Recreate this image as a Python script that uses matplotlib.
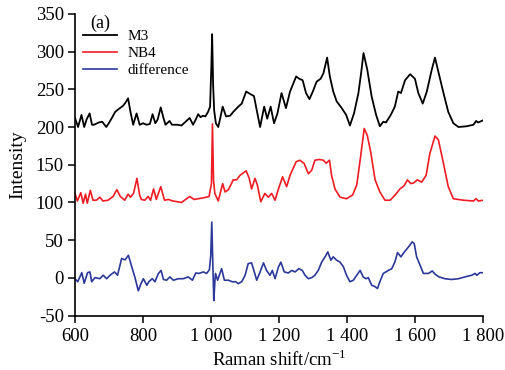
import matplotlib
matplotlib.use("Agg")
import matplotlib.pyplot as plt
from matplotlib.ticker import FixedLocator

plt.rcParams['font.family'] = ['Liberation Serif', 'DejaVu Serif']
plt.rcParams['mathtext.fontset'] = 'custom'
plt.rcParams['mathtext.rm'] = 'Liberation Serif'
plt.rcParams['axes.unicode_minus'] = False

# ---- data ----
m3_x = [600, 609, 619, 627, 634, 643, 650, 656, 670, 680, 692, 702, 712, 718, 726, 735,
        741, 748, 756, 763, 771, 781, 790, 800, 810, 820, 828, 836, 843, 852, 860, 866,
        878, 885, 900, 913, 925, 937, 947, 955, 962, 969, 976, 983, 991, 997, 1001, 1003,
        1006, 1009, 1014, 1021, 1027, 1034, 1044, 1056, 1065, 1080, 1090, 1103, 1114, 1126,
        1136, 1144, 1156, 1165, 1175, 1185, 1195, 1207, 1220, 1232, 1250, 1259, 1269, 1279,
        1289, 1299, 1310, 1322, 1330, 1341, 1349, 1359, 1369, 1384, 1397, 1408, 1420, 1433,
        1441, 1448, 1459, 1472, 1485, 1496, 1506, 1514, 1528, 1540, 1550, 1558, 1570, 1585,
        1599, 1609, 1622, 1634, 1648, 1658, 1668, 1683, 1697, 1712, 1727, 1751, 1771, 1779,
        1785, 1800]
m3_y = [212, 200, 216, 200, 210, 218, 203, 203, 206, 207, 200, 207, 215, 220, 223, 226,
        228, 232, 238, 220, 203, 218, 203, 205, 203, 204, 217, 205, 210, 226, 212, 203,
        208, 203, 203, 202, 207, 212, 203, 210, 217, 213, 215, 214, 220, 227, 285, 323,
        255, 222, 205, 200, 212, 227, 214, 215, 220, 227, 231, 247, 244, 241,
        218, 200, 227, 211, 227, 205, 218, 245, 225, 247, 267, 264, 262, 245,
        237, 247, 260, 264, 271, 292, 267, 247, 234, 225, 216, 202, 218, 245,
        272, 298, 276, 240, 216, 201, 207, 206, 216, 227, 247, 245, 262, 270,
        264, 245, 231, 247, 275, 292, 273, 245, 220, 205, 200, 201, 203, 208,
        206, 209]

nb4_x = [600, 607, 617, 624, 631, 636, 645, 653, 663, 673, 682, 697, 712, 723, 733, 746,
         756, 763, 772, 782, 790, 795, 805, 815, 822, 831, 839, 852, 863, 874, 888, 913,
         937, 950, 962, 976, 994, 1001, 1004, 1007, 1011, 1021, 1034, 1041, 1051, 1065,
         1075, 1085, 1103, 1112, 1119, 1129, 1136, 1146, 1158, 1168, 1178, 1188, 1198, 1210,
         1222, 1232, 1250, 1261, 1273, 1286, 1296, 1305, 1318, 1330, 1338, 1348, 1354, 1364,
         1379, 1398, 1416, 1428, 1438, 1450, 1459, 1469, 1482, 1496, 1511, 1526, 1541, 1555,
         1567, 1577, 1587, 1596, 1606, 1619, 1632, 1643, 1658, 1668, 1681, 1697, 1712, 1741,
         1771, 1779, 1785, 1800]
nb4_y = [112, 102, 113, 99, 111, 99, 116, 103, 103, 107, 102, 103, 108, 117, 108, 103,
         111, 107, 112, 132, 110, 104, 103, 108, 103, 118, 104, 121, 103, 104, 102, 100,
         108, 104, 105, 106, 108, 125, 204, 130, 112, 102, 125, 114, 117, 130,
         130, 136, 142, 132, 118, 132, 123, 101, 112, 107, 112, 103, 118, 134,
         121, 136, 154, 156, 152, 138, 143, 156, 157, 156, 152, 156, 136, 118,
         107, 105, 110, 123, 156, 198, 189, 167, 130, 114, 103, 103, 110, 118,
         122, 130, 125, 126, 130, 127, 136, 165, 188, 183, 156, 121, 105, 103,
         102, 105, 102, 103]

diff_x = [600, 608, 620, 627, 637, 644, 649, 659, 673, 683, 693, 703, 716, 725, 737, 747,
          757, 767, 776, 786, 794, 801, 811, 817, 827, 835, 845, 853, 860, 869, 879, 889,
          904, 918, 933, 945, 955, 964, 977, 987, 995, 999, 1002, 1005, 1008, 1011, 1013,
          1019, 1026, 1031, 1039, 1051, 1062, 1072, 1080, 1090, 1100, 1109, 1119, 1127, 1134,
          1144, 1154, 1163, 1173, 1180, 1188, 1198, 1205, 1215, 1227, 1237, 1247, 1258, 1268,
          1276, 1286, 1296, 1305, 1315, 1325, 1335, 1343, 1352, 1359, 1369, 1379, 1389, 1398,
          1408, 1418, 1428, 1438, 1447, 1455, 1462, 1472, 1480, 1489, 1496, 1506, 1521, 1531,
          1540, 1548, 1558, 1568, 1580, 1591, 1597, 1604, 1614, 1624, 1639, 1650, 1658, 1670,
          1687, 1707, 1727, 1746, 1766, 1776, 1781, 1790, 1800]
diff_y = [-1, -5, 7, -7, 7, 8, -5, 0.5, -1, 3.6, -1, 3.6, 8, 3.6, 25.7, 24,
          30, 14.6, 1, -17, -7.5, -1, -9.7, -5, -1, -5, 5.8, 10, -2, -3, 1.4, -3,
          -1, -1, 1.4, -3, 6.6, 6, 8, 6, 11, 30, 74, 20, -30, -5, 6,
          -3, 6, 12.4, -3, -3, -5, -5, -7.5, -5, 3.6, 19, 20, 8, -3,
          8, 20, 10, 3.6, 10, -1, 14.6, 21, 8, 6.6, 10, 8, 12.4, 10,
          3.6, -1, 0.5, 3.6, 10, 21, 28, 34.5, 23.5, 28, 23.5, 21, 14.6, 3.6,
          -5, -3, 3.6, 10, 1.4, -1, 0.5, -9.7, -11, -14, -5, 6, 10, 12.4,
          21, 33.6, 28, 34.5, 41, 47.8, 45.6, 28, 17, 6, 6, 9.3, 5, 1.4,
          -1, -2, -1, 1.4, 3.6, 6, 3.6, 7, 7]

series_labels = ["M3", "NB4", "difference"]
xticks = [600, 800, 1000, 1200, 1400, 1600, 1800]
xtick_labels = ["600", "800", "1 000", "1 200", "1 400", "1 600", "1 800"]
yticks = [-50, 0, 50, 100, 150, 200, 250, 300, 350]

# ---- figure ----
fig = plt.figure(figsize=(5.06, 3.70), dpi=100)
ax = fig.add_axes([75 / 506, 1 - 315.7 / 370, (483.3 - 75) / 506, (315.7 - 13.8) / 370])

ax.plot(m3_x, m3_y, color="#000000", lw=1.3, label=series_labels[0])
ax.plot(nb4_x, nb4_y, color="#ee1c24", lw=1.2, label=series_labels[1])
ax.plot(diff_x, diff_y, color="#2b3899", lw=1.2, label=series_labels[2])

ax.set_xlim(600, 1800)
ax.set_ylim(-50, 350)
ax.xaxis.set_major_locator(FixedLocator(xticks))
ax.set_xticklabels(xtick_labels)
ax.yaxis.set_major_locator(FixedLocator(yticks))
ax.spines['top'].set_visible(False)
ax.spines['right'].set_visible(False)
for s in ('left', 'bottom'):
    ax.spines[s].set_linewidth(1.2)
ax.tick_params(direction='out', length=5, width=1.1, labelsize=13.5)
ax.tick_params(axis='x', pad=4)
ax.tick_params(axis='y', pad=3)

ax.set_xlabel(r"Raman shift/cm$^{-1}$", fontsize=13.5, labelpad=3)
ax.set_ylabel("Intensity", fontsize=14, labelpad=7)

fig.text(90 / 506, 1 - 23 / 370, "(a)", fontsize=13, va='center', ha='left')

leg = ax.legend(loc='upper left', bbox_to_anchor=(8 / 408, 1 - 16 / 302), frameon=False,
                fontsize=11, handlelength=2.2, handletextpad=0.7, labelspacing=0.2,
                borderaxespad=0, borderpad=0)

fig.savefig("out.png", dpi=100)
